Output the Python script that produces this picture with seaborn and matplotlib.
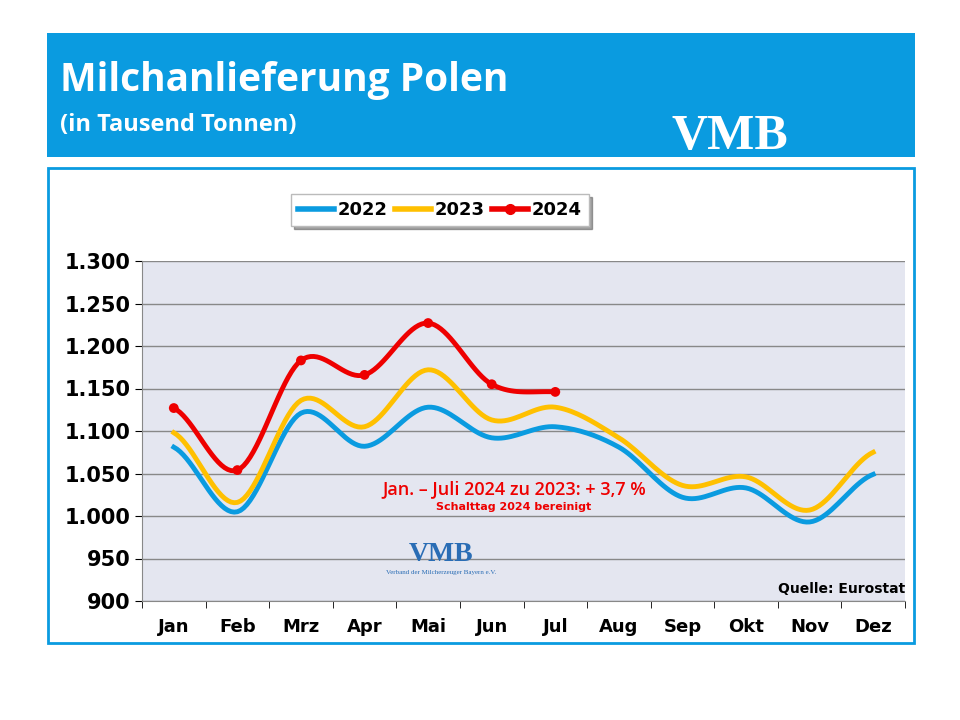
import numpy as np
import pandas as pd
import matplotlib.pyplot as plt
import seaborn as sns
from matplotlib.patches import Rectangle
from matplotlib.lines import Line2D

months = ["Jan", "Feb", "Mrz", "Apr", "Mai", "Jun", "Jul", "Aug", "Sep", "Okt", "Nov", "Dez"]
vals_2022 = [1081, 1005, 1121, 1082, 1128, 1092, 1105, 1081, 1022, 1033, 993, 1049]
vals_2023 = [1098, 1016, 1136, 1105, 1172, 1113, 1128, 1092, 1036, 1046, 1007, 1075]
vals_2024 = [1127, 1054, 1183, 1166, 1227, 1155, 1146]
yticks = [900, 950, 1000, 1050, 1100, 1150, 1200, 1250, 1300]


def smooth(y, n=20):
    # catmull-rom curve through the points, only for drawing
    y = np.asarray(y, float)
    p = np.concatenate([[y[0]], y, [y[-1]]])
    xs, ys = [], []
    for i in range(len(y) - 1):
        t = np.linspace(0, 1, n, endpoint=False)
        p0, p1, p2, p3 = p[i], p[i + 1], p[i + 2], p[i + 3]
        ys.append(0.5 * (2 * p1 + (-p0 + p2) * t + (2 * p0 - 5 * p1 + 4 * p2 - p3) * t**2
                         + (-p0 + 3 * p1 - 3 * p2 + p3) * t**3))
        xs.append(i + t)
    xs.append([len(y) - 1])
    ys.append([y[-1]])
    return np.concatenate(xs), np.concatenate(ys)


fig = plt.figure(figsize=(9.6, 7.2), dpi=100)
W, H = 960, 720


def box(x0, y0, x1, y1):
    return [x0 / W, 1 - y1 / H, (x1 - x0) / W, (y1 - y0) / H]


# header
fig.patches.append(Rectangle((47 / W, 1 - 157 / H), 868 / W, 124 / H, transform=fig.transFigure,
                             facecolor="#0a9be0", edgecolor="none"))
fig.text(60 / W, 1 - 80 / H, "Milchanlieferung Polen", color="white", fontsize=28,
         fontweight="bold", family="Open Sans", va="center")
fig.text(60 / W, 1 - 125 / H, "(in Tausend Tonnen)", color="white", fontsize=17,
         fontweight="bold", family="Open Sans", va="center")
fig.text(730 / W, 1 - 137 / H, "VMB", color="white", fontsize=36, fontweight="bold",
         family="Liberation Serif", ha="center", va="center")
# chart frame
fig.patches.append(Rectangle((48 / W, 1 - 643 / H), 866 / W, 475 / H, transform=fig.transFigure,
                             facecolor="white", edgecolor="#0a9be0", linewidth=2))

ax = fig.add_axes(box(142, 261, 905, 601))
ax.set_facecolor("#e4e6f0")
ax.set_zorder(2)

df = pd.concat([
    pd.DataFrame({"x": smooth(v)[0], "y": smooth(v)[1], "Jahr": j})
    for j, v in [("2022", vals_2022), ("2023", vals_2023), ("2024", vals_2024)]
])
colors = {"2022": "#0a9be0", "2023": "#ffc000", "2024": "#ee0000"}
sns.lineplot(data=df, x="x", y="y", hue="Jahr", palette=colors, linewidth=3.5,
             ax=ax, legend=False, sort=False)
sns.scatterplot(x=range(len(vals_2024)), y=vals_2024, color="#ee0000", s=50,
                edgecolor="none", ax=ax, zorder=5)

ax.set_xlim(-0.5, 11.5)
ax.set_ylim(900, 1300)
ax.set_yticks(yticks)
ax.set_yticklabels([f"{v:,}".replace(",", ".") for v in yticks], fontsize=15, fontweight="bold")
ax.set_xticks(range(12))
ax.set_xticklabels(months, fontsize=13, fontweight="bold")
ax.set_xticks(np.arange(-0.5, 12, 1), minor=True)
ax.tick_params(axis="x", which="major", length=0, pad=12)
ax.tick_params(axis="x", which="minor", length=5)
ax.tick_params(axis="y", length=5)
ax.grid(axis="y", color="#888888", linewidth=1)
ax.set_axisbelow(True)
for s in ["top", "right"]:
    ax.spines[s].set_visible(False)
for s in ["left", "bottom"]:
    ax.spines[s].set_color("#888888")
ax.set_xlabel("")
ax.set_ylabel("")

ax.text(5.35, 1032, "Jan. – Juli 2024 zu 2023: + 3,7 %", color="#ee0000", fontsize=13,
        fontweight="semibold", family="Open Sans", ha="center", va="center")
ax.text(5.35, 1011, "Schalttag 2024 bereinigt", color="#ee0000", fontsize=8,
        fontweight="bold", ha="center", va="center")
ax.text(4.2, 955, "VMB", color="#2a6db5", fontsize=20, fontweight="bold",
        family="Liberation Serif", ha="center", va="center")
ax.text(4.2, 934, "Verband der Milcherzeuger Bayern e.V.", color="#2a6db5", fontsize=5,
        family="Liberation Serif", ha="center", va="center")
ax.text(11.5, 914, "Quelle: Eurostat", fontsize=10, fontweight="bold", ha="right", va="center")

# legend
handles = [Line2D([], [], color=colors["2022"], lw=4),
           Line2D([], [], color=colors["2023"], lw=4),
           Line2D([], [], color=colors["2024"], lw=4, marker="o", markersize=7)]
fig.legend(handles, ["2022", "2023", "2024"], loc="center", bbox_to_anchor=(440 / W, 1 - 210 / H),
           ncol=3, fancybox=False, shadow=True, edgecolor="#bbbbbb", handlelength=2.0,
           columnspacing=0.4, handletextpad=0.2, prop={"size": 13, "weight": "bold"})

fig.savefig("out.png", dpi=100)
